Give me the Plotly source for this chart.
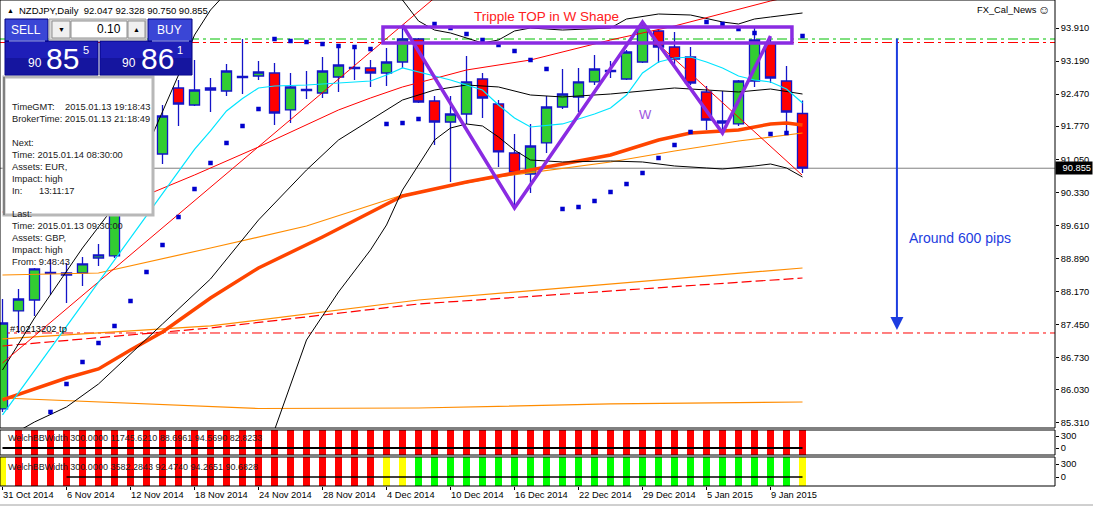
import plotly.graph_objects as go

# ---------------- data ----------------
bar_index = list(range(51))
tick_idx = list(range(0, 49, 4))
tick_labels = ["31 Oct 2014", "6 Nov 2014", "12 Nov 2014", "18 Nov 2014", "24 Nov 2014",
               "28 Nov 2014", "4 Dec 2014", "10 Dec 2014", "16 Dec 2014", "22 Dec 2014",
               "29 Dec 2014", "5 Jan 2015", "9 Jan 2015"]

opens = [85.610, 87.745, 87.984, 88.562, 88.572, 88.572, 88.899, 88.943, 90.163, 90.600,
         91.165, 92.603, 92.232, 92.559, 92.537, 92.832, 92.864, 92.930, 92.124, 92.548,
         92.494, 92.842, 93.028, 93.039, 92.930, 93.169, 93.670, 92.320, 91.862, 92.036,
         92.799, 92.254, 91.187, 90.729, 91.405, 92.189, 92.407, 92.734, 92.962, 92.799,
         93.169, 93.845, 93.496, 93.278, 92.516, 91.884, 91.819, 92.755, 93.583, 92.755,
         92.047]
highs = [88.006, 88.224, 88.681, 88.877, 88.790, 88.921, 89.204, 90.272, 90.750, 91.300,
         92.232, 92.777, 93.213, 92.821, 93.126, 93.670, 93.191, 93.147, 92.930, 92.973,
         93.278, 93.518, 93.496, 93.213, 93.474, 93.932, 93.692, 92.429, 92.429, 93.300,
         92.930, 92.341, 91.601, 91.819, 92.429, 93.017, 93.039, 93.322, 93.191, 93.431,
         94.041, 93.888, 93.823, 93.496, 92.646, 92.537, 92.777, 93.932, 93.692, 93.082,
         92.328]
lows = [85.544, 87.265, 87.636, 88.093, 87.919, 88.289, 88.725, 88.899, 89.950, 90.400,
        90.947, 91.775, 92.211, 92.080, 92.429, 92.472, 92.777, 91.797, 91.840, 92.363,
        92.385, 92.516, 92.777, 92.625, 92.646, 93.039, 92.276, 91.361, 90.555, 91.819,
        91.949, 90.882, 89.989, 90.315, 91.187, 92.145, 92.080, 92.668, 92.821, 92.777,
        93.147, 93.147, 93.104, 92.668, 91.688, 91.688, 91.775, 92.625, 92.712, 91.622,
        90.750]
closes = [87.483, 88.006, 88.660, 88.584, 88.529, 88.769, 88.965, 90.163, 90.600, 91.100,
          91.993, 92.254, 92.559, 92.603, 92.973, 92.853, 92.951, 92.058, 92.625, 92.570,
          92.973, 93.104, 93.050, 92.930, 93.169, 93.670, 92.298, 91.862, 92.036, 92.734,
          92.385, 91.209, 90.751, 91.339, 92.189, 92.472, 92.734, 93.017, 92.984, 93.387,
          93.932, 93.496, 93.235, 92.712, 91.906, 91.840, 92.755, 93.649, 92.821, 92.080,
          90.855]

sar = [None, None, None, 85.544, 86.154, 86.633, 87.047, 87.418, 87.962, 88.594,
       89.182, 89.792, 90.402, 90.969, 91.405, 91.775, 92.145, 93.670, 93.627, 93.605,
       93.561, 93.518, 93.496, 93.452, 91.819, 91.840, 91.927, 93.997, 93.910, 93.779,
       93.649, 93.540, 93.409, 93.213, 93.017, 89.967, 90.010, 90.141, 90.337, 90.511,
       90.751, 91.078, 91.361, 91.644, 94.041, 93.997, 93.888, 93.801, 91.601, 91.622,
       93.736]

cyan_idx = [0, 6, 12, 13, 14, 15, 16, 17, 19, 23, 24, 25, 26, 28, 30, 31, 32, 33, 35, 36,
            37, 38, 39, 40, 41, 42, 43, 44, 45, 46, 47, 48, 49, 50]
cyan_val = [85.479, 88.376, 91.267, 91.666, 92.102, 92.372, 92.603, 92.646, 92.668, 92.755,
            92.886, 93.039, 92.951, 92.777, 92.559, 92.232, 91.949, 91.753, 91.819, 91.927,
            92.036, 92.167, 92.450, 92.930, 93.169, 93.256, 93.278, 93.169, 93.039, 92.864,
            92.777, 92.734, 92.581, 92.276]

red_fast_idx = [0, 12, 27]
red_fast_val = [86.612, 90.145, 94.564]

red_mid_idx = [0, 9, 12, 16, 21, 23, 25, 29, 33, 38, 42, 48, 50]
red_mid_val = [89.901, 90.272, 90.707, 91.317, 92.124, 92.385, 92.625, 92.995, 93.213,
               93.649, 93.954, 94.498, 94.651]

red_slow_idx = [0, 13, 26, 38, 50]
red_slow_val = [86.982, 87.374, 87.897, 88.180, 88.463]

orange_slow_idx = [0, 13, 26, 38, 50]
orange_slow_val = [87.135, 87.418, 87.984, 88.333, 88.681]

orange_mid_idx = [0, 6, 13, 19, 25, 31, 38, 42, 46, 50]
orange_mid_val = [88.529, 88.572, 89.117, 89.596, 90.272, 90.664, 90.991, 91.230, 91.448, 91.622]

orange_thick_idx = [0, 4, 6, 8, 10, 13, 16, 20, 25, 29, 33, 38, 41, 43, 46, 48, 49, 50]
orange_thick_val = [85.806, 86.285, 86.481, 86.895, 87.287, 88.028, 88.681, 89.357, 90.250,
                    90.555, 90.816, 91.143, 91.470, 91.622, 91.688, 91.819, 91.840, 91.797]

orange_long_idx = [0, 6, 13, 16, 26, 38, 50]
orange_long_val = [85.849, 85.762, 85.675, 85.620, 85.631, 85.719, 85.762]

bb_mid_idx = [0, 2, 4, 6, 10, 13, 16, 19, 21, 25, 27, 29, 31, 33, 35, 38, 42, 44, 46, 48, 50]
bb_mid_val = [84.930, 85.326, 85.653, 86.154, 87.461, 88.442, 89.727, 90.816, 91.470, 92.341,
              92.559, 92.668, 92.625, 92.450, 92.407, 92.472, 92.603, 92.559, 92.516, 92.581,
              92.472]

bb_up_idx = [0, 2, 5, 8, 11, 12, 13, 15, 19, 23, 25, 26, 27, 28, 30, 31, 32, 33, 35, 38,
             39, 41, 43, 45, 46, 47, 48, 50]
bb_up_val = [86.459, 87.592, 89.117, 90.490, 92.886, 93.757, 94.302, 95.060, 95.500, 95.170,
             94.520, 94.063, 93.866, 93.801, 93.583, 93.649, 93.845, 93.910, 93.866, 93.910,
             94.106, 94.215, 94.193, 94.041, 93.997, 94.106, 94.150, 94.237]

bb_low_idx = [13, 15, 17, 19, 21, 23, 24, 25, 26, 27, 28, 29, 30, 31, 32, 33, 35, 38, 40, 42,
              44, 45, 47, 48, 49, 50]
bb_low_val = [82.320, 83.845, 85.152, 87.113, 88.158, 89.074, 89.618, 90.381, 90.925, 91.470,
              91.731, 91.819, 91.775, 91.535, 91.252, 91.034, 90.991, 91.012, 90.991, 90.904,
              90.860, 90.838, 90.904, 90.947, 90.860, 90.664]

trend_x = [40.97, 49.97]
trend_y = [93.561, 90.707]

w_x = [25, 32, 40, 45, 48]
w_y = [93.975, 89.989, 94.041, 91.622, 93.736]
box_x = [23.78, 49.34]
box_y = [93.583, 93.932]

price_ticks = [93.910, 93.190, 92.470, 91.770, 91.050, 90.330, 89.610, 88.890, 88.170,
               87.450, 86.730, 86.030, 85.310]
bid = 90.855
green_level = 93.670
red_level = 93.594
tp_level = 87.265

arrow_bar = 55.9
arrow_from = 93.714
arrow_to = 87.330

welch1_state = ['N'] + ['R'] * 50
welch2_state = ['Y'] + ['R'] * 23 + ['Y', 'Y'] + ['G'] * 24 + ['Y']
welch_hist = 1000
welch1_text = "WelchBBWidth 300.0000 11745.6210 88.6961 94.5690 82.8233"
welch2_text = "WelchBBWidth 300.0000 3582.2843 92.4740 94.2651 90.6828"

# ---------------- figure ----------------
PW, PH = 1055.0, 486.0


def xp(v):
    return v / PW


def yp(v):
    return (PH - v) / PH


FONT = "Liberation Sans, Arial, sans-serif"
BLUE = "#1414c8"
state_color = {'R': '#ff0000', 'G': '#00ff00', 'Y': '#ffff00', 'N': 'rgba(0,0,0,0)'}

fig = go.Figure()

fig.add_trace(go.Candlestick(
    x=bar_index, open=opens, high=highs, low=lows, close=closes,
    increasing=dict(fillcolor='#32cd32', line=dict(color=BLUE, width=1.3)),
    decreasing=dict(fillcolor='#ff0000', line=dict(color=BLUE, width=1.3)),
    whiskerwidth=0, hoverinfo='skip', showlegend=False))


def add_line(idx, val, color, width, dash='solid'):
    fig.add_trace(go.Scatter(x=idx, y=val, mode='lines',
                             line=dict(color=color, width=width, dash=dash),
                             hoverinfo='skip', showlegend=False))


add_line(orange_long_idx, orange_long_val, '#ff8c00', 1.2)
add_line(red_slow_idx, red_slow_val, '#ff0000', 1.2, '10px,4px')
add_line(orange_slow_idx, orange_slow_val, '#ff8c00', 1.2)
add_line(orange_mid_idx, orange_mid_val, '#ff8c00', 1.2)
add_line(orange_thick_idx, orange_thick_val, '#ff4500', 3.5)
add_line(bb_up_idx, bb_up_val, '#000000', 1)
add_line(bb_mid_idx, bb_mid_val, '#000000', 1)
add_line(bb_low_idx, bb_low_val, '#000000', 1)
add_line(red_mid_idx, red_mid_val, '#ff0000', 1)
add_line(red_fast_idx, red_fast_val, '#ff0000', 1)
add_line(cyan_idx, cyan_val, '#00e5ff', 1.2)
add_line(trend_x, trend_y, '#ff0000', 1)

fig.add_trace(go.Scatter(x=bar_index, y=sar, mode='markers',
                         marker=dict(symbol='square', size=4.5, color='#0000cd'),
                         hoverinfo='skip', showlegend=False))

fig.add_trace(go.Scatter(x=w_x, y=w_y, mode='lines', line=dict(color='#8a2be2', width=3.5),
                         hoverinfo='skip', showlegend=False))

# sub panels
fig.add_trace(go.Bar(x=bar_index, y=[welch_hist] * len(bar_index), base=-175, width=0.44,
                     marker=dict(color=[state_color[s] for s in welch1_state], line=dict(width=0)),
                     yaxis='y2', hoverinfo='skip', showlegend=False))
fig.add_trace(go.Scatter(x=[0, 50], y=[0, 0], mode='lines', line=dict(color='black', width=2),
                         yaxis='y2', hoverinfo='skip', showlegend=False))
fig.add_trace(go.Bar(x=bar_index, y=[welch_hist] * len(bar_index), base=-208, width=0.44,
                     marker=dict(color=[state_color[s] for s in welch2_state], line=dict(width=0)),
                     yaxis='y3', hoverinfo='skip', showlegend=False))
fig.add_trace(go.Scatter(x=[4, 50], y=[0, 0], mode='lines', line=dict(color='black', width=1.5),
                         yaxis='y3', hoverinfo='skip', showlegend=False))

shapes = []
# horizontal levels
shapes.append(dict(type='line', xref='paper', x0=0, x1=1, yref='y', y0=bid, y1=bid,
                   line=dict(color='#808080', width=1), layer='below'))
shapes.append(dict(type='line', xref='paper', x0=0, x1=1, yref='y', y0=green_level, y1=green_level,
                   line=dict(color='#00c000', width=1, dash='10px,4px,3px,4px'), layer='below'))
shapes.append(dict(type='line', xref='paper', x0=0, x1=1, yref='y', y0=red_level, y1=red_level,
                   line=dict(color='#ff0000', width=1, dash='10px,4px,3px,4px'), layer='below'))
shapes.append(dict(type='line', xref='paper', x0=0, x1=1, yref='y', y0=tp_level, y1=tp_level,
                   line=dict(color='#ff0000', width=1, dash='10px,4px,3px,4px'), layer='below'))
# purple rectangle
shapes.append(dict(type='rect', xref='x', yref='y', x0=box_x[0], x1=box_x[1], y0=box_y[0], y1=box_y[1],
                   line=dict(color='#8a2be2', width=3.5), fillcolor='rgba(0,0,0,0)', layer='above'))


def prect(x0, y0, x1, y1, fill, line='rgba(0,0,0,0)', lw=0):
    shapes.append(dict(type='rect', xref='paper', yref='paper', x0=xp(x0), x1=xp(x1),
                       y0=yp(y1), y1=yp(y0), fillcolor=fill, line=dict(color=line, width=lw),
                       layer='above'))


def pline(x0, y0, x1, y1, color, lw=1):
    shapes.append(dict(type='line', xref='paper', yref='paper', x0=xp(x0), x1=xp(x1),
                       y0=yp(y0), y1=yp(y1), line=dict(color=color, width=lw), layer='above'))


# info panel
prect(4, 77, 153, 215, 'white', '#b8b8b8', 3)
pline(4, 77, 4, 215, '#808080', 2)

# trade panel
prect(5, 41, 98, 75, '#1e1eb8', '#000080', 1)
prect(6, 58, 97, 74, '#15159f')
prect(100, 41, 192, 75, '#1e1eb8', '#000080', 1)
prect(101, 58, 191, 74, '#15159f')
prect(5, 19, 48, 41, '#3a46d6', '#000080', 1)
prect(148, 19, 192, 41, '#3a46d6', '#000080', 1)
pline(9, 41, 45, 41, '#a8b0ff', 1)
pline(152, 41, 189, 41, '#a8b0ff', 1)
prect(49, 19, 146, 40, '#d8d8d8', '#a0a0a0', 1)
prect(52, 21, 70, 38, '#f0f0f0', '#909090', 1)
prect(71, 21, 127, 38, 'white', '#909090', 1)
prect(128, 21, 145, 38, '#f0f0f0', '#909090', 1)

# frames
prect(0, 0, 1055, 428, 'rgba(0,0,0,0)', 'black', 1)
prect(0, 430, 1055, 455, 'rgba(0,0,0,0)', 'black', 1)
prect(0, 457, 1055, 486, 'rgba(0,0,0,0)', 'black', 1)
pline(0, 505, 1093, 505, '#a0a0a0', 1)

annotations = []


def ptext(text, x, y, size=9.3, color='#202020', anchor='left', bg=None, **kw):
    d = dict(text=text, xref='paper', yref='paper', x=xp(x), y=yp(y), xanchor=anchor,
             yanchor='middle', showarrow=False, font=dict(family=FONT, size=size, color=color))
    if bg:
        d['bgcolor'] = bg
    d.update(kw)
    annotations.append(d)


ptext('▲', 5, 10, 7, 'black')
ptext('NZDJPY,Daily  92.047 92.328 90.750 90.855', 17, 10, 9.5, 'black')
ptext('FX_Cal_News', 975, 10, 9.3, 'black')
ptext('☺', 1036, 10, 12, 'black')

ptext('SELL', 26, 30, 12, 'white', 'center')
ptext('BUY', 169, 30, 12, 'white', 'center')
ptext('0.10', 123, 29, 12, 'black', 'right')
ptext('▼', 61, 29, 7, 'black', 'center')
ptext('▲', 136, 29, 7, 'black', 'center')
ptext('90', 35, 63, 12, 'white', 'center')
ptext('85', 62, 58, 30, 'white', 'center')
ptext('5', 86, 50, 11, 'white', 'center')
ptext('90', 129, 63, 12, 'white', 'center')
ptext('86', 157, 58, 30, 'white', 'center')
ptext('1', 180, 50, 11, 'white', 'center')

ptext('TimeGMT:', 10, 107)
ptext('2015.01.13 19:18:43', 63, 107)
ptext('BrokerTime: 2015.01.13 21:18:49', 10, 119)
ptext('Next:', 10, 143)
ptext('Time: 2015.01.14 08:30:00', 10, 155)
ptext('Assets: EUR,', 10, 167)
ptext('Impact: high', 10, 179)
ptext('In:', 10, 191)
ptext('13:11:17', 37, 191)
ptext('Last:', 10, 214)
ptext('Time: 2015.01.13 09:30:00', 10, 226)
ptext('Assets: GBP,', 10, 238)
ptext('Impact: high', 10, 250)
ptext('From: 9:48:43', 10, 262)
ptext('#10213202 tp', 8, 329, 9.3, 'black')

ptext(welch1_text, 6, 438, 9, '#202020')
ptext(welch2_text, 6, 467, 9, '#202020')

# data-anchored annotations
annotations.append(dict(text='Tripple TOP in W Shape', x=34.0, y=94.171, xref='x', yref='y',
                        showarrow=False, font=dict(family=FONT, size=13.5, color='#ff2020')))
annotations.append(dict(text='W', x=40.16, y=92.015, xref='x', yref='y', showarrow=False,
                        font=dict(family=FONT, size=13, color='#9b55e0')))
annotations.append(dict(text='Around 600 pips', x=56.5, y=89.335, xref='x', yref='y',
                        xanchor='left', showarrow=False,
                        font=dict(family=FONT, size=14, color='#1c3ce0')))
annotations.append(dict(text='', x=arrow_bar, y=arrow_to, ax=arrow_bar, ay=arrow_from,
                        xref='x', yref='y', axref='x', ayref='y', showarrow=True,
                        arrowhead=2, arrowsize=1.3, arrowwidth=2, arrowcolor='#1c3ce0'))
annotations.append(dict(text='90.855', x=1.0, y=bid, xref='paper', yref='y', xanchor='left',
                        yanchor='middle', showarrow=False, bgcolor='black', borderpad=1,
                        font=dict(family=FONT, size=9.3, color='white'), width=34, align='right'))

axis_common = dict(showgrid=False, zeroline=False, showline=False, ticks='outside', ticklen=3,
                   tickcolor='black', tickfont=dict(family=FONT, size=9.3, color='black'))

fig.update_layout(
    width=1093, height=507,
    margin=dict(l=0, r=38, t=0, b=21),
    paper_bgcolor='white', plot_bgcolor='white',
    showlegend=False, boxgap=0.37, boxgroupgap=0, barmode='overlay',
    font=dict(family=FONT, size=9.3, color='black'),
    xaxis=dict(range=[-0.156, 65.78], anchor='y3', tickvals=tick_idx, ticktext=tick_labels,
               ticklabelposition='outside right', rangeslider=dict(visible=False),
               **axis_common),
    yaxis=dict(domain=[yp(428), 1], range=[85.195, 94.52], side='right', anchor='x',
               tickvals=price_ticks, ticktext=[f"{v:.3f}" for v in price_ticks], **axis_common),
    yaxis2=dict(domain=[yp(455), yp(430)], range=[-175, 450], side='right', anchor='x',
                tickvals=[0, 300], ticktext=['0', '300'], **axis_common),
    yaxis3=dict(domain=[0, yp(457)], range=[-208, 462], side='right', anchor='x',
                tickvals=[0, 300], ticktext=['0', '300'], **axis_common),
    shapes=shapes, annotations=annotations,
)

fig.write_html("out.html", config={'displayModeBar': False},
               post_script="document.body.style.margin='0';document.body.style.overflow='hidden';")
